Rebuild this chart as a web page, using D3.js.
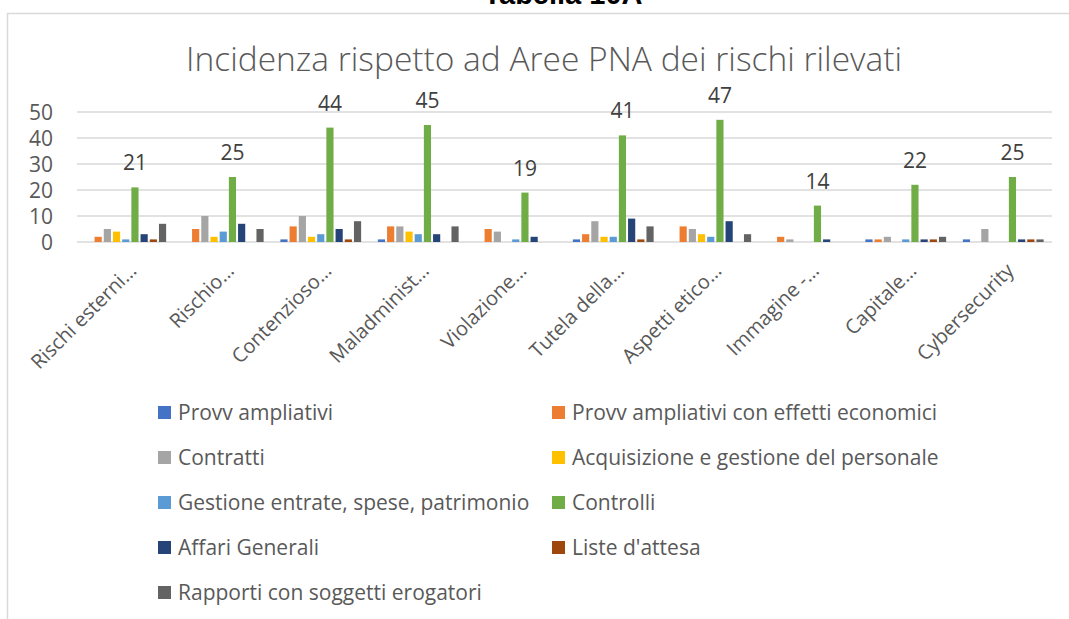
<!DOCTYPE html>
<html>
<head>
<meta charset="utf-8">
<script src="https://cdn.jsdelivr.net/npm/d3@7"></script>
<style>
  html, body { margin: 0; padding: 0; background: #ffffff; }
  svg { display: block; }
  text { font-family: "Open Sans", "Noto Sans", sans-serif; }
</style>
</head>
<body>
<svg id="chart" width="1069" height="619"></svg>
<script>
const pageTitle = "Tabella 10A";
const chartTitle = "Incidenza rispetto ad Aree PNA dei rischi rilevati";
const categories = ["Rischi esterni…", "Rischio…", "Contenzioso…", "Maladminist…", "Violazione…",
  "Tutela della…", "Aspetti etico…", "Immagine -…", "Capitale…", "Cybersecurity"];
const seriesNames = ["Provv ampliativi", "Provv ampliativi con effetti economici", "Contratti",
  "Acquisizione e gestione del personale", "Gestione entrate, spese, patrimonio", "Controlli",
  "Affari Generali", "Liste d'attesa", "Rapporti con soggetti erogatori"];
const seriesColors = ["#4472C4", "#ED7D31", "#A5A5A5", "#FFC000", "#5B9BD5", "#70AD47", "#264478", "#9E480E", "#636363"];
// values per series, in category order
const provvAmpliativi      = [0, 0, 1, 1, 0, 1, 0, 0, 1, 1];
const provvEffettiEcon     = [2, 5, 6, 6, 5, 3, 6, 2, 1, 0];
const contratti            = [5, 10, 10, 6, 4, 8, 5, 1, 2, 5];
const acquisizionePersonale= [4, 2, 2, 4, 0, 2, 3, 0, 0, 0];
const gestioneEntrate      = [1, 4, 3, 3, 1, 2, 2, 0, 1, 0];
const controlli            = [21, 25, 44, 45, 19, 41, 47, 14, 22, 25];
const affariGenerali       = [3, 7, 5, 3, 2, 9, 8, 1, 1, 1];
const listeAttesa          = [1, 0, 1, 0, 0, 1, 0, 0, 1, 1];
const rapportiErogatori    = [7, 5, 8, 6, 0, 6, 3, 0, 2, 1];
const yTicks = [0, 10, 20, 30, 40, 50];
const labelledSeries = "Controlli";

const seriesValues = [provvAmpliativi, provvEffettiEcon, contratti, acquisizionePersonale,
  gestioneEntrate, controlli, affariGenerali, listeAttesa, rapportiErogatori];

const svg = d3.select("#chart");
const textColor = "#595959";
const gridColor = "#D9D9D9";

// chart frame
svg.append("rect").attr("x", 7.5).attr("y", 13.5).attr("width", 1100).attr("height", 700)
  .attr("fill", "#fff").attr("stroke", gridColor).attr("stroke-width", 1.5);

// page heading (cut off at top)
svg.append("text").attr("x", 563).attr("y", 4).attr("text-anchor", "middle")
  .style("font-family", "'Liberation Sans', Arial, sans-serif").style("font-weight", "bold")
  .style("font-size", "29px").attr("fill", "#000").text(pageTitle);

// chart title
svg.append("text").attr("x", 544).attr("y", 71).attr("text-anchor", "middle")
  .style("font-size", "33.5px").style("font-weight", 300).attr("fill", textColor).text(chartTitle);

const plot = { left: 77, right: 1052, top: 112, bottom: 242 };
const x0 = d3.scaleBand().domain(categories).range([plot.left, plot.right]).paddingInner(0).paddingOuter(0);
const x1 = d3.scaleBand().domain(seriesNames).range([0, x0.bandwidth()]).paddingInner(0.22).paddingOuter(0.91);
const y = d3.scaleLinear().domain([0, 50]).range([plot.bottom, plot.top]);

// gridlines
svg.append("g").selectAll("line").data(yTicks).join("line")
  .attr("x1", plot.left).attr("x2", plot.right)
  .attr("y1", d => y(d)).attr("y2", d => y(d))
  .attr("stroke", gridColor).attr("stroke-width", 1.3);

// y axis labels
const yAxis = d3.axisLeft(y).tickValues(yTicks).tickSize(0).tickPadding(0);
const yg = svg.append("g").attr("transform", `translate(${plot.left - 24},0)`).call(yAxis);
yg.select(".domain").remove();
yg.selectAll("text").style("font-family", "'Open Sans', sans-serif").style("font-size", "21px")
  .attr("fill", textColor).attr("dy", "0.35em");

// bars
const groups = svg.append("g").selectAll("g").data(categories).join("g")
  .attr("transform", d => `translate(${x0(d)},0)`);
groups.selectAll("rect").data((c, ci) => seriesNames.map((s, si) => ({ s, si, v: seriesValues[si][ci] })))
  .join("rect")
  .attr("x", d => x1(d.s)).attr("width", x1.bandwidth())
  .attr("y", d => y(d.v)).attr("height", d => y(0) - y(d.v))
  .attr("fill", d => seriesColors[d.si]);

// data labels for Controlli
const li = seriesNames.indexOf(labelledSeries);
svg.append("g").selectAll("text").data(categories).join("text")
  .attr("x", (c) => x0(c) + x1(labelledSeries) + x1.bandwidth() / 2)
  .attr("y", (c, ci) => y(seriesValues[li][ci]) - 17)
  .attr("text-anchor", "middle").style("font-size", "21px").attr("fill", "#404040")
  .text((c, ci) => seriesValues[li][ci]);

// x labels
const xAxis = d3.axisBottom(x0).tickSize(0).tickPadding(0);
const xg = svg.append("g").attr("transform", `translate(0,${plot.bottom})`).call(xAxis);
xg.select(".domain").remove();
xg.selectAll(".tick text")
  .attr("y", 0).attr("dy", "0.35em")
  .attr("transform", "translate(7,25) rotate(-45)")
  .attr("text-anchor", "end")
  .style("font-family", "'Open Sans', sans-serif").style("font-size", "20px").attr("fill", textColor);

// legend
const legendCols = [158, 552];
const legendRows = [413, 458, 503, 548, 593];
const leg = svg.append("g").selectAll("g").data(seriesNames).join("g")
  .attr("transform", (d, i) => `translate(${legendCols[i % 2]},${legendRows[Math.floor(i / 2)]})`);
leg.append("rect").attr("x", 0).attr("y", -7).attr("width", 13).attr("height", 13)
  .attr("fill", (d, i) => seriesColors[i]);
leg.append("text").attr("x", 20).attr("y", 0).attr("dy", "0.35em")
  .style("font-size", "21px").attr("fill", textColor).text(d => d);
</script>
</body>
</html>
